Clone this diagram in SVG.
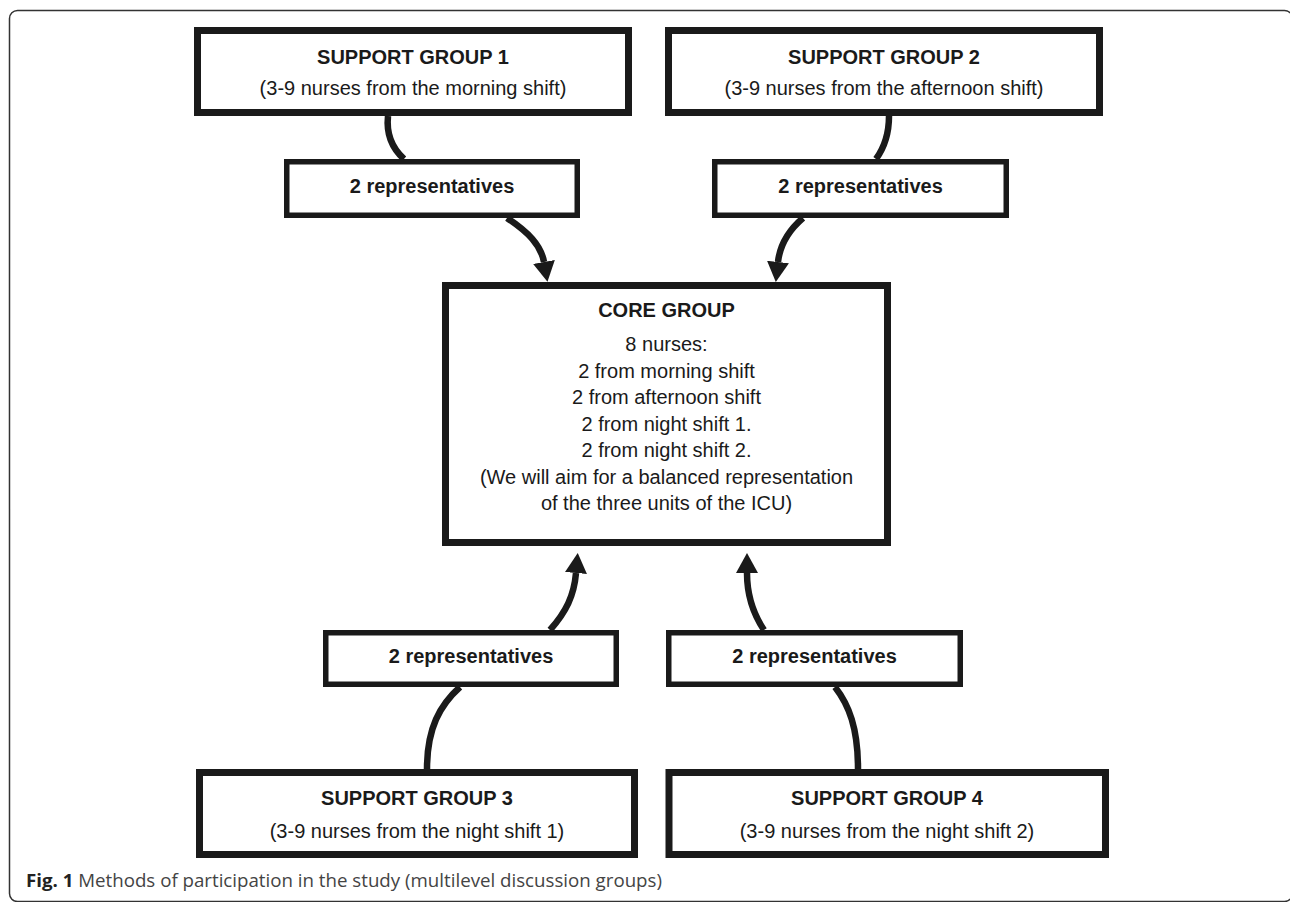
<svg xmlns="http://www.w3.org/2000/svg" width="1290" height="902" viewBox="0 0 1290 902">
<defs>
<style>
.frame{fill:none;stroke:#333;stroke-width:1.5}
.big{fill:#fff;stroke:#1a1a1a;stroke-width:7}
.rep{fill:#fff;stroke:#1a1a1a;stroke-width:5.5}
.conn{fill:none;stroke:#1a1a1a;stroke-width:6.5}
.t{font-family:"Liberation Sans",Arial,sans-serif;font-size:20px;fill:#1a1a1a;text-anchor:middle}
.b{font-weight:bold}
.cap{font-family:"Open Sans","Noto Sans",sans-serif;font-size:17.5px;fill:#444}
</style>
<marker id="ah" markerUnits="userSpaceOnUse" markerWidth="22" markerHeight="24" refX="0" refY="11" orient="auto" viewBox="0 0 22 22">
<path d="M0,0 L20,11 L0,22 z" fill="#1a1a1a"/>
</marker>
</defs>
<rect class="frame" x="9.5" y="10.5" width="1283" height="891" rx="8"/>
<g id="connectors">
<path class="conn" d="M388,116 C386,135 393,149 404,159"/>
<path class="conn" d="M889,116 C889,135 884,148 876,159"/>
<path class="conn" d="M507,218 C528,232 541,245 544,262" marker-end="url(#ah)"/>
<path class="conn" d="M803,218 C789,230 780,244 778,262" marker-end="url(#ah)"/>
<path class="conn" d="M427,769 C427,728 440,705 460,687"/>
<path class="conn" d="M858,769 C858,728 849,705 835,687"/>
<path class="conn" d="M550,630 C566,612 574,596 576,573" marker-end="url(#ah)"/>
<path class="conn" d="M764,630 C752,612 747,595 747,573" marker-end="url(#ah)"/>
</g>
<g id="sg1">
<rect class="big" x="197.5" y="30.5" width="431" height="82"/>
<text class="t b" x="413" y="63.5">SUPPORT GROUP 1</text>
<text class="t" x="413" y="95">(3-9 nurses from the morning shift)</text>
</g>
<g id="sg2">
<rect class="big" x="668.5" y="30.5" width="431" height="82"/>
<text class="t b" x="884" y="63.5">SUPPORT GROUP 2</text>
<text class="t" x="884" y="95">(3-9 nurses from the afternoon shift)</text>
</g>
<g id="rep1">
<rect class="rep" x="286.75" y="161.75" width="290.5" height="53.5"/>
<text class="t b" x="432" y="193">2 representatives</text>
</g>
<g id="rep2">
<rect class="rep" x="714.75" y="161.75" width="291.5" height="53.5"/>
<text class="t b" x="860.5" y="193">2 representatives</text>
</g>
<g id="core">
<rect class="big" x="445.5" y="285.5" width="442" height="257"/>
<text class="t b" x="666.5" y="317">CORE GROUP</text>
<text class="t" x="666.5" y="351">8 nurses:</text>
<text class="t" x="666.5" y="377.5">2 from morning shift</text>
<text class="t" x="666.5" y="404">2 from afternoon shift</text>
<text class="t" x="666.5" y="430.5">2 from night shift 1.</text>
<text class="t" x="666.5" y="457">2 from night shift 2.</text>
<text class="t" x="666.5" y="483.5">(We will aim for a balanced representation</text>
<text class="t" x="666.5" y="510">of the three units of the ICU)</text>
</g>
<g id="rep3">
<rect class="rep" x="325.75" y="632.75" width="290.5" height="51.5"/>
<text class="t b" x="471" y="663">2 representatives</text>
</g>
<g id="rep4">
<rect class="rep" x="668.75" y="632.75" width="291.5" height="51.5"/>
<text class="t b" x="814.5" y="663">2 representatives</text>
</g>
<g id="sg3">
<rect class="big" x="199.5" y="772.5" width="435" height="82"/>
<text class="t b" x="417" y="805">SUPPORT GROUP 3</text>
<text class="t" x="417" y="838">(3-9 nurses from the night shift 1)</text>
</g>
<g id="sg4">
<rect class="big" x="669" y="772.5" width="436.5" height="82"/>
<text class="t b" x="887" y="805">SUPPORT GROUP 4</text>
<text class="t" x="887" y="838">(3-9 nurses from the night shift 2)</text>
</g>
<text class="cap" x="26" y="887" textLength="636" lengthAdjust="spacingAndGlyphs"><tspan font-weight="bold" fill="#222">Fig. 1</tspan> Methods of participation in the study (multilevel discussion groups)</text>
</svg>
